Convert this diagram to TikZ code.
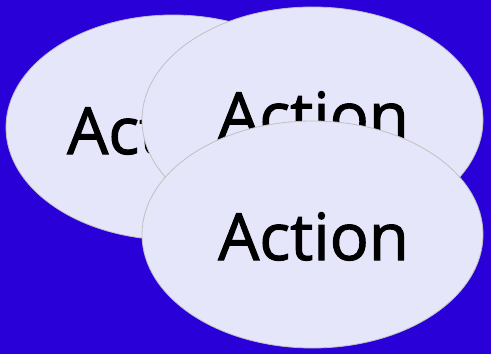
\documentclass[tikz,border=0pt]{standalone}
\usepackage{fontspec}
\setmainfont{Open Sans}
\newfontfamily\actfont[FakeBold=1.6]{Open Sans}
\definecolor{bg}{HTML}{2A00D9}
\definecolor{lav}{HTML}{E6E6FA}
\definecolor{rim}{HTML}{C0C0C0}
\begin{document}
\begin{tikzpicture}[x=1pt,y=-1pt,
  oval/.style={fill=lav,draw=rim,line width=0.8pt},
  lbl/.style={anchor=base,inner sep=0pt,font=\actfont\fontsize{65}{70}\selectfont,text=black}]
\fill[bg] (0,0) rectangle (491,354);
\useasboundingbox (0,0) rectangle (491,354);
\draw[oval] (173,127.5) ellipse [x radius=167,y radius=112.5];
\node[lbl] (t1) at (162.5,154) {Action};
\draw[oval] (312.5,120) ellipse [x radius=170.5,y radius=113];
\node[lbl] (t2) at (313.5,139) {Action};
\draw[oval] (312.5,234.5) ellipse [x radius=170.5,y radius=113.5];
\node[lbl] (t3) at (313.5,260) {Action};
\end{tikzpicture}
\end{document}
